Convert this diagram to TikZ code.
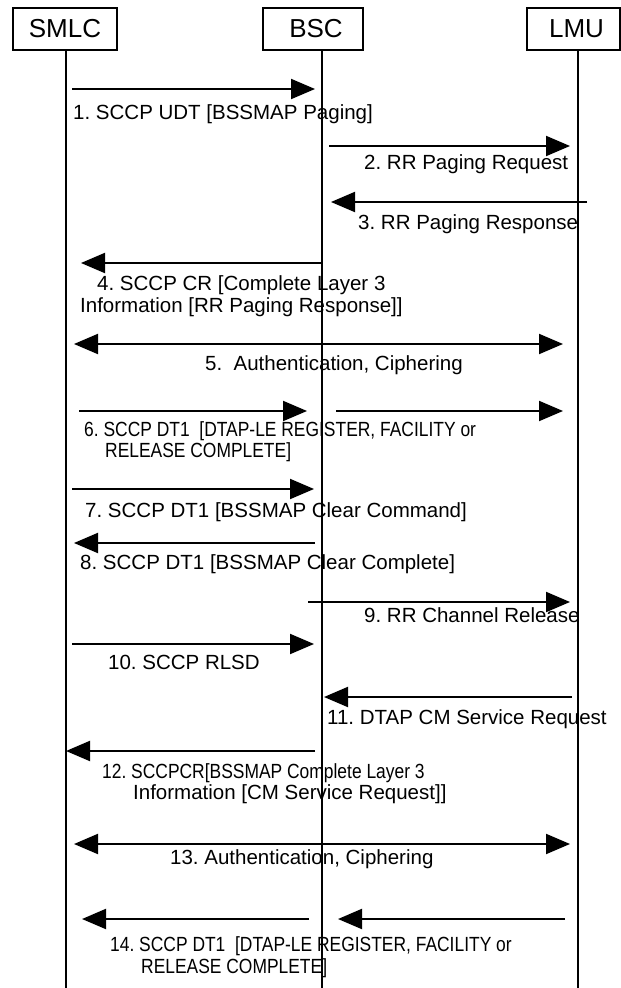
\documentclass[tikz,border=0pt]{standalone}
\usepackage{fontspec}
\setmainfont{Liberation Sans}
\newfontfamily\narrowfont[FakeStretch=0.85]{Liberation Sans}
\usetikzlibrary{arrows.meta}
\frenchspacing
\tikzset{
  entity/.style={draw, line width=2pt, minimum height=42pt, inner sep=0pt, font=\fontsize{26}{30}\selectfont},
  life/.style={line width=2pt},
  msg/.style={line width=2pt, -{Triangle[length=24pt,width=20pt]}},
  dmsg/.style={line width=2pt, {Triangle[length=24pt,width=20pt]}-{Triangle[length=24pt,width=20pt]}},
  lbl/.style={anchor=base west, inner sep=0pt, font=\frenchspacing\fontsize{20.5}{24}\selectfont},
  nlbl/.style={anchor=base west, inner sep=0pt, font=\frenchspacing\narrowfont\fontsize{20.5}{24}\selectfont},
}
\newcommand\msgarrow[5]{%
  \coordinate (#1s) at (#2,#4);
  \coordinate (#1e) at (#3,#4);
  \draw[#5] (#1s) -- (#1e);}
\begin{document}
\begin{tikzpicture}[x=1pt,y=-1pt]
\useasboundingbox (0,0) rectangle (621,988);
% entities
\node[entity, minimum width=104pt] (smlc) at (65,29) {SMLC};
\node[entity, minimum width=100pt] (bsc) at (313,29) {\hspace*{6pt}BSC};
\node[entity, minimum width=93pt] (lmu) at (573.5,29) {\hspace*{6pt}LMU};
% lifelines
\coordinate (smlcEnd) at (66,988);
\coordinate (bscEnd) at (322,988);
\coordinate (lmuEnd) at (578,988);
\draw[life] (smlc.south -| smlcEnd) -- (smlcEnd);
\draw[life] (bsc.south -| bscEnd) -- (bscEnd);
\draw[life] (lmu.south -| lmuEnd) -- (lmuEnd);
% messages
\msgarrow{m1}{72}{315}{89}{msg}
\node[lbl] (t1) at (73,119) {1. SCCP UDT [BSSMAP Paging]};
\msgarrow{m2}{329}{570}{146}{msg}
\node[lbl] (t2) at (364,169) {2. RR Paging Request};
\msgarrow{m3}{587}{331}{202}{msg}
\node[lbl] (t3) at (358,229) {3. RR Paging Response};
\msgarrow{m4}{322}{81}{263}{msg}
\node[lbl] (t4a) at (97,290) {4. SCCP CR [Complete Layer 3};
\node[lbl] (t4b) at (80,312) {Information [RR Paging Response]]};
\msgarrow{m5}{74}{563}{344}{dmsg}
\node[lbl] (t5) at (205,370) {5.\ \ Authentication, Ciphering};
\msgarrow{m6a}{79}{307}{411}{msg}
\msgarrow{m6b}{336}{563}{411}{msg}
\node[nlbl] (t6a) at (84,436) {6. SCCP DT1\ \ [DTAP-LE REGISTER, FACILITY or};
\node[nlbl] (t6b) at (105,457) {RELEASE COMPLETE]};
\msgarrow{m7}{72}{314}{489}{msg}
\node[lbl] (t7) at (85,517) {7. SCCP DT1 [BSSMAP Clear Command]};
\msgarrow{m8}{315}{74}{543}{msg}
\node[lbl] (t8) at (80,569) {8. SCCP DT1 [BSSMAP Clear Complete]};
\msgarrow{m9}{308}{570}{602}{msg}
\node[lbl] (t9) at (364,622) {9. RR Channel Release};
\msgarrow{m10}{72}{314}{644}{msg}
\node[lbl] (t10) at (108,669) {10. SCCP RLSD};
\msgarrow{m11}{572}{324}{697}{msg}
\node[lbl] (t11) at (327,724) {11. DTAP CM Service Request};
\msgarrow{m12}{315}{66}{751}{msg}
\node[nlbl] (t12a) at (102,778) {12. SCCPCR[BSSMAP Complete Layer 3};
\node[lbl] (t12b) at (133,799) {Information [CM Service Request]]};
\msgarrow{m13}{74}{570}{844}{dmsg}
\node[lbl] (t13) at (170,864) {13. Authentication, Ciphering};
\msgarrow{m14a}{309}{82}{919}{msg}
\msgarrow{m14b}{565}{338}{919}{msg}
\node[nlbl] (t14a) at (110,951) {14. SCCP DT1\ \ [DTAP-LE REGISTER, FACILITY or};
\node[nlbl] (t14b) at (141,973) {RELEASE COMPLETE]};
\end{tikzpicture}
\end{document}
